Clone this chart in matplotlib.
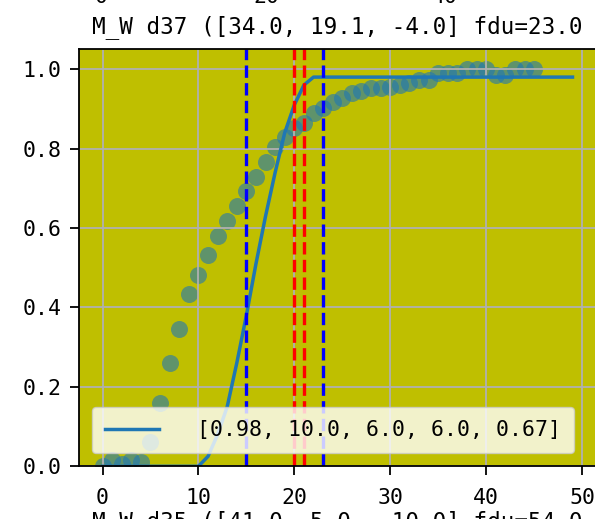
import matplotlib
matplotlib.use('Agg')
import matplotlib.pyplot as plt
import numpy as np

# observed daily fraction (dots)
days = np.arange(46)
observed = [0.0, 0.015, 0.005, 0.015, 0.01, 0.06, 0.16, 0.26, 0.345, 0.433,
            0.482, 0.532, 0.58, 0.618, 0.656, 0.693, 0.728, 0.767, 0.803, 0.829,
            0.851, 0.864, 0.889, 0.902, 0.918, 0.928, 0.94, 0.944, 0.952, 0.952,
            0.956, 0.96, 0.965, 0.973, 0.973, 0.99, 0.99, 0.99, 1.0, 1.0,
            1.0, 0.985, 0.985, 1.0, 1.0, 1.0]

# fitted curve
fit_x = np.arange(50)
fit_y = [0.0, 0.0, 0.0, 0.0, 0.0, 0.0, 0.0, 0.0, 0.0, 0.0,
         0.0, 0.025, 0.08, 0.15, 0.26, 0.38, 0.51, 0.63, 0.74, 0.84,
         0.91, 0.96, 0.98, 0.98, 0.98, 0.98, 0.98, 0.98, 0.98, 0.98,
         0.98, 0.98, 0.98, 0.98, 0.98, 0.98, 0.98, 0.98, 0.98, 0.98,
         0.98, 0.98, 0.98, 0.98, 0.98, 0.98, 0.98, 0.98, 0.98, 0.98]
fit_params = [0.98, 10.0, 6.0, 6.0, 0.67]

blue_days = [15, 23]
red_days = [20, 21]

title = "M_W d37 ([34.0, 19.1, -4.0] fdu=23.0"
next_title = "M_W d35 ([41.0, 5.0, -10.0] fdu=54.0"
prev_ticks = ["0", "20", "40"]

plt.rcParams['font.family'] = ['DejaVu Sans Mono']

fig = plt.figure(figsize=(5.95, 5.19), dpi=100)
ax = fig.add_axes([79 / 595, 52.7 / 519, 517 / 595, 417 / 519])
ax.set_facecolor('y')

ax.scatter(days, observed, s=150, color='C0', alpha=0.6, linewidths=0)
ax.plot(fit_x, fit_y, color='C0', lw=2.5, label=str(fit_params))
for d in blue_days:
    ax.axvline(d, color='blue', ls='--', lw=2.4)
for d in red_days:
    ax.axvline(d, color='red', ls='--', lw=2.4)

ax.set_xlim(-2.45, 51.45)
ax.set_ylim(0, 1.05)
ax.set_xticks([0, 10, 20, 30, 40, 50])
ax.set_yticks([0.0, 0.2, 0.4, 0.6, 0.8, 1.0])
ax.grid(True, color='#b0b0b0', lw=1.3)
ax.tick_params(labelsize=15.5, length=6.5, width=1.3, pad=6)
ax.tick_params(axis='x', pad=9)
for sp in ax.spines.values():
    sp.set_linewidth(1.3)
ax.set_title(title, fontsize=16.3, pad=12)

ax.legend(loc='lower left', fontsize=15.5, handlelength=2.5,
          handletextpad=1.75, borderpad=0.62, borderaxespad=0.6)

# pieces of the neighbouring subplots cut by the crop
for t, xp in zip(prev_ticks, [101, 266, 445]):
    fig.text(xp / 595, 1 - 3 / 519, t, ha='center', va='baseline', fontsize=15.5)
fig.text(337.5 / 595, -9 / 519, next_title, ha='center', va='baseline', fontsize=16.3)

fig.savefig('out.png', dpi=100)
